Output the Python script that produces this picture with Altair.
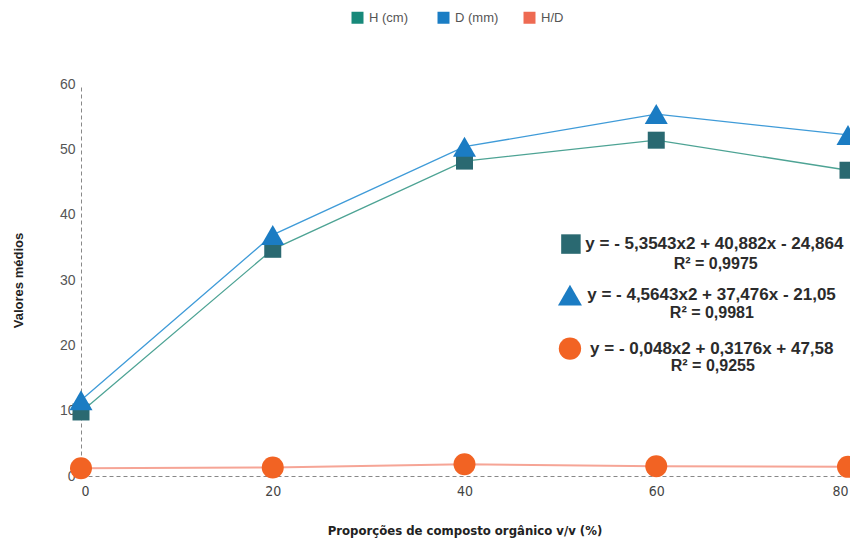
import altair as alt
import pandas as pd

# Mean values per proportion of organic compost (% v/v)
proportions = [0, 20, 40, 60, 80]
altura_cm = [9.8, 34.7, 48.2, 51.4, 46.8]
diametro_mm = [11.6, 36.9, 50.4, 55.4, 52.2]
relacao_hd = [1.2, 1.3, 1.8, 1.5, 1.4]

series_names = ["H (cm)", "D (mm)", "H/D"]
legend_colors = ["#17897a", "#1a7dc4", "#ee6a52"]
line_colors = ["#4da394", "#3f9bd8", "#f6a596"]
marker_colors = ["#2a6971", "#1b7cc3", "#f26323"]
marker_shapes = ["square", "triangle-up", "circle"]
marker_sizes = [289, 529, 484]
line_widths = [1.3, 1.3, 2.0]

# Fitted regression equations and their R²
equations = [
    "y = - 5,3543x2 + 40,882x - 24,864",
    "y = - 4,5643x2 + 37,476x - 21,05",
    "y = - 0,048x2 + 0,3176x + 47,58",
]
r_squared = ["R² = 0,9975", "R² = 0,9981", "R² = 0,9255"]

# Annotation anchors in data units
eq_marker_x = [51.1, 51.0, 51.0]
eq_text_x = [52.6, 52.8, 53.1]
eq_y = [35.5, 27.7, 19.5]
r2_x = [66.2, 65.8, 65.9]
r2_y = [32.5, 24.9, 16.8]
eq_marker_sizes = [380, 576, 500]

values_by_series = [altura_cm, diametro_mm, relacao_hd]
rows = []
for name, vals in zip(series_names, values_by_series):
    for x, v in zip(proportions, vals):
        rows.append({"proporcao": x, "valor": v, "serie": name})
df = pd.DataFrame(rows)

ann = pd.DataFrame({
    "serie": series_names,
    "mx": eq_marker_x,
    "tx": eq_text_x,
    "ty": eq_y,
    "rx": r2_x,
    "ry": r2_y,
    "eq": equations,
    "r2": r_squared,
})

x_scale = alt.Scale(domain=[0, 80], nice=False)
y_scale = alt.Scale(domain=[0, 60], nice=False)

narrow = "Liberation Sans Narrow, DejaVu Sans Condensed, sans-serif"

x_axis = alt.Axis(
    values=proportions,
    title="Proporções de composto orgânico v/v (%)",
    titleFont=narrow,
    titleFontSize=13,
    titleFontWeight="bold",
    titleColor="#222",
    titlePadding=26,
    labelFont=narrow,
    labelFontSize=14,
    labelColor="#444",
    labelPadding=8,
    ticks=False,
    grid=False,
    domainColor="#888",
    domainDash=[4, 3],
    domainWidth=1,
)
y_axis = alt.Axis(
    values=[0, 10, 20, 30, 40, 50, 60],
    title="Valores médios",
    titleFont="Liberation Sans",
    titleFontSize=13,
    titleFontWeight="bold",
    titleColor="#222",
    titlePadding=34,
    labelFont="Liberation Sans",
    labelFontSize=14,
    labelColor="#555",
    labelPadding=6,
    ticks=False,
    grid=False,
    domainColor="#888",
    domainDash=[4, 3],
    domainWidth=1,
)

base = alt.Chart(df)

layers = []

# Invisible layer that carries the axes and the legend
legend_layer = base.mark_square(size=0, opacity=0).encode(
    x=alt.X("proporcao:Q", scale=x_scale, axis=x_axis),
    y=alt.Y("valor:Q", scale=y_scale, axis=y_axis),
    color=alt.Color(
        "serie:N",
        scale=alt.Scale(domain=series_names, range=legend_colors),
        sort=series_names,
        legend=alt.Legend(
            orient="none",
            legendX=270,
            legendY=-73,
            direction="horizontal",
            title=None,
            symbolType="square",
            symbolSize=144,
            symbolOpacity=1,
            symbolStrokeWidth=0,
            labelFont="Liberation Sans",
            labelFontSize=13,
            labelColor="#555",
            labelOffset=5,
            columnPadding=24,
            gridAlign="all",
        ),
    ),
)
layers.append(legend_layer)

for name, lc, lw in zip(series_names, line_colors, line_widths):
    layers.append(
        base.transform_filter(alt.datum.serie == name)
        .mark_line(color=lc, strokeWidth=lw)
        .encode(x="proporcao:Q", y="valor:Q")
    )

for name, mc, shp, sz in zip(series_names, marker_colors, marker_shapes, marker_sizes):
    layers.append(
        base.transform_filter(alt.datum.serie == name)
        .mark_point(shape=shp, size=sz, filled=True, color=mc, opacity=1)
        .encode(x="proporcao:Q", y="valor:Q")
    )

ann_base = alt.Chart(ann)
for name, mc, shp, sz in zip(series_names, marker_colors, marker_shapes, eq_marker_sizes):
    layers.append(
        ann_base.transform_filter(alt.datum.serie == name)
        .mark_point(shape=shp, size=sz, filled=True, color=mc, opacity=1)
        .encode(x="mx:Q", y="ty:Q")
    )

layers.append(
    ann_base.mark_text(
        align="left", baseline="middle", font="Liberation Sans",
        fontWeight="bold", fontSize=17, color="#2b2b2b",
    ).encode(x="tx:Q", y="ty:Q", text="eq:N")
)
layers.append(
    ann_base.mark_text(
        align="center", baseline="middle", font="Liberation Sans",
        fontWeight="bold", fontSize=16, color="#2b2b2b",
    ).encode(x="rx:Q", y="ry:Q", text="r2:N")
)

chart = (
    alt.layer(*layers)
    .properties(
        width=767,
        height=392,
        autosize=alt.AutoSizeParams(type="none"),
        padding={"left": 81, "top": 84, "right": 2, "bottom": 65},
        background="white",
    )
    .configure_view(stroke=None)
)

chart.save("out.html", embed_options={"renderer": "svg", "actions": False})
